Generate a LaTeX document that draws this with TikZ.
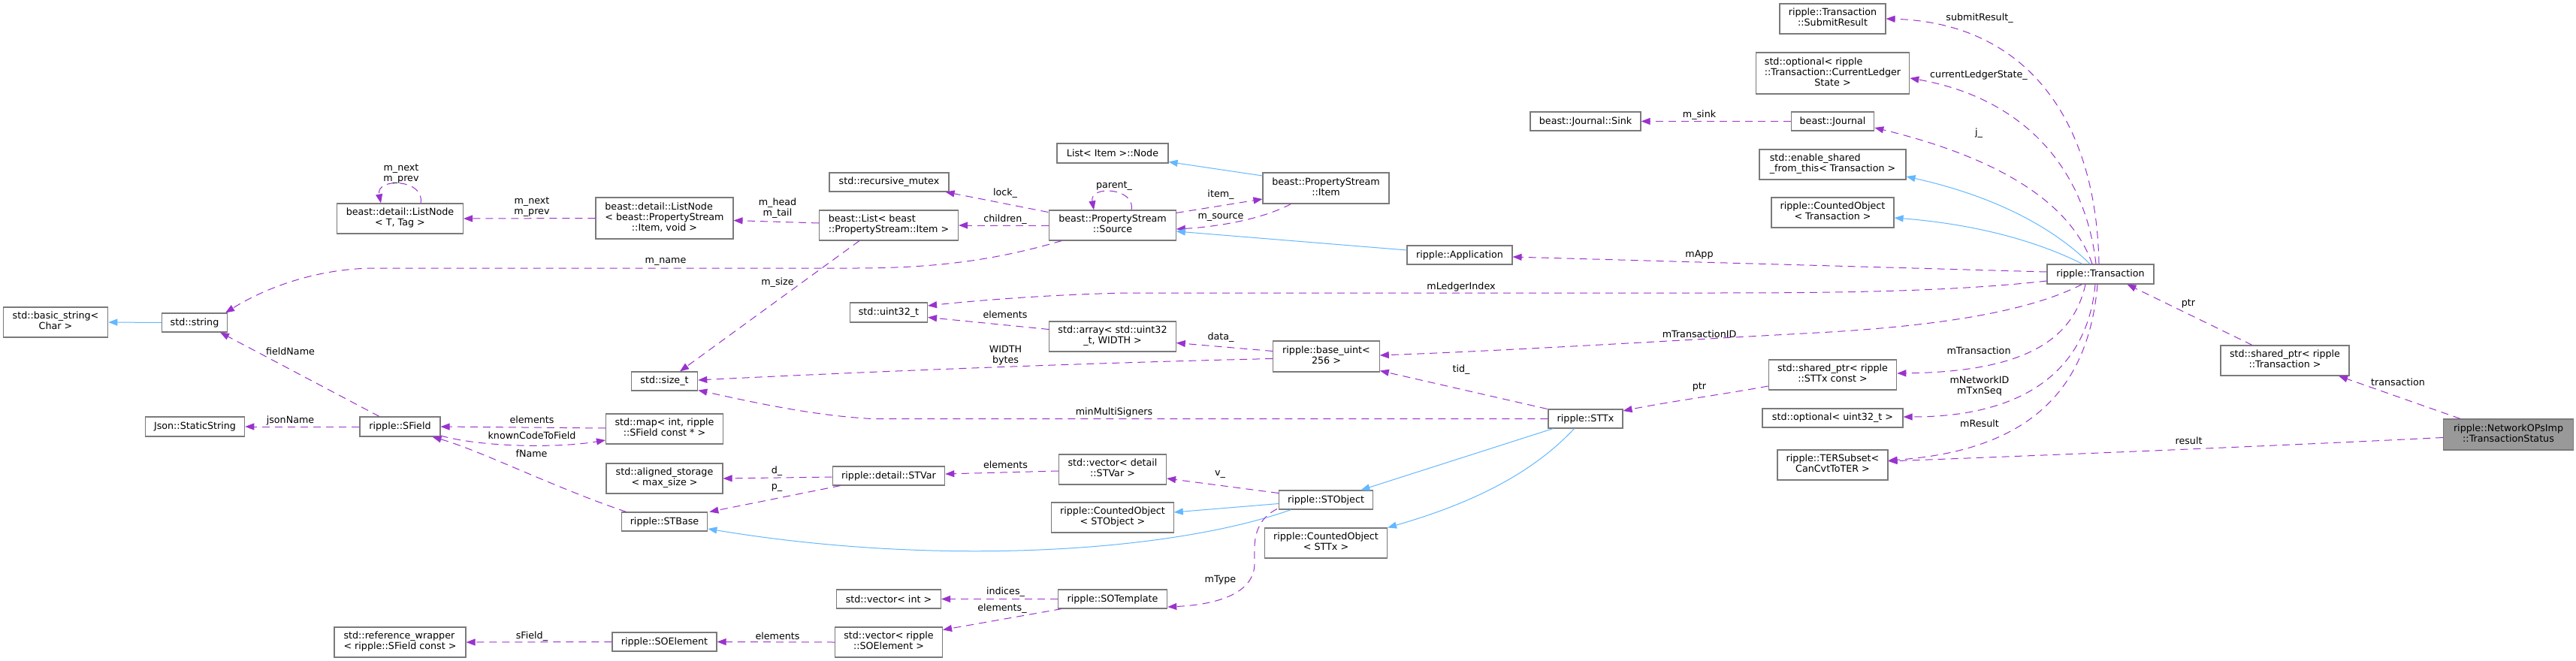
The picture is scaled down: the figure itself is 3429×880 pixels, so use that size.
\documentclass[tikz,border=0pt]{standalone}
\usepackage{fontspec}
\setmainfont{DejaVu Sans}
\usetikzlibrary{arrows.meta,calc}
\definecolor{edgep}{HTML}{9A32CD}
\definecolor{edgeb}{HTML}{63B8FF}
\definecolor{nodeb}{HTML}{7A7A7A}
\definecolor{mainf}{HTML}{999999}
\newcommand{\TwoL}[2]{\begin{tabular}{@{}l@{}}#1\\\multicolumn{1}{@{}c@{}}{#2}\end{tabular}}
\newcommand{\ThreeL}[3]{\begin{tabular}{@{}l@{}}#1\\#2\\\multicolumn{1}{@{}c@{}}{#3}\end{tabular}}
\begin{document}
\begin{tikzpicture}[x=1pt,y=-1pt,
  font=\fontsize{12.7}{14}\selectfont,
  clsbox/.style={draw=nodeb, line width=1.1pt, fill=white, inner sep=0pt, rectangle},
  mem/.style={draw=edgep, line width=1pt, dash pattern=on 10pt off 7pt, -{Triangle[length=12pt,width=9pt]}},
  inh/.style={draw=edgeb, line width=1pt, -{Triangle[length=12pt,width=9pt]}},
  lbl/.style={inner sep=0pt, align=center}]
\useasboundingbox[fill=white] (0,0) rectangle (3429,880);

% nodes
\node[clsbox,minimum width=139.5pt,minimum height=40pt] (bs) at (74,429) {\TwoL{std::basic\_string<}{Char >}};
\node[clsbox,minimum width=87pt,minimum height=25pt] (str) at (259,429.5) {std::string};
\node[clsbox,minimum width=168pt,minimum height=40pt] (lnt) at (532.5,291) {\TwoL{beast::detail::ListNode}{< T, Tag >}};
\node[clsbox,minimum width=183pt,minimum height=55pt] (lni) at (884.5,290.5) {\ThreeL{beast::detail::ListNode}{< beast::PropertyStream}{::Item, void >}};
\node[clsbox,minimum width=185pt,minimum height=40pt] (lst) at (1183,300) {\TwoL{beast::List< beast}{::PropertyStream::Item >}};
\node[clsbox,minimum width=159pt,minimum height=25pt] (mtx) at (1183.5,242.5) {std::recursive\_mutex};
\node[clsbox,minimum width=103pt,minimum height=26pt] (u32) at (1183,416) {std::uint32\_t};
\node[clsbox,minimum width=148pt,minimum height=26pt] (lnode) at (1481,204) {List< Item >::Node};
\node[clsbox,minimum width=168.5pt,minimum height=40pt] (src) at (1481,300) {\TwoL{beast::PropertyStream}{::Source}};
\node[clsbox,minimum width=168pt,minimum height=41pt] (itm) at (1765,250.5) {\TwoL{beast::PropertyStream}{::Item}};
\node[clsbox,minimum width=168.5pt,minimum height=40pt] (arr) at (1481,448) {\TwoL{std::array< std::uint32}{\_t, WIDTH >}};
\node[clsbox,minimum width=147pt,minimum height=25pt] (sink) at (2110.5,161.5) {beast::Journal::Sink};
\node[clsbox,minimum width=140pt,minimum height=25pt] (app) at (1943,339.5) {ripple::Application};
\node[clsbox,minimum width=141pt,minimum height=40pt] (sub) at (2439.5,25) {\TwoL{ripple::Transaction}{::SubmitResult}};
\node[clsbox,minimum width=204.5pt,minimum height=55pt] (cur) at (2439.5,97.5) {\ThreeL{std::optional< ripple}{::Transaction::CurrentLedger}{State >}};
\node[clsbox,minimum width=110.5pt,minimum height=25pt] (jnl) at (2439.5,161.5) {beast::Journal};
\node[clsbox,minimum width=195pt,minimum height=40pt] (esft) at (2439.5,219) {\TwoL{std::enable\_shared}{\_from\_this< Transaction >}};
\node[clsbox,minimum width=163pt,minimum height=40pt] (cot) at (2439.5,283) {\TwoL{ripple::CountedObject}{< Transaction >}};
\node[clsbox,minimum width=142pt,minimum height=26pt] (tr) at (2796,365) {ripple::Transaction};
\node[clsbox,minimum width=171pt,minimum height=40pt] (spt) at (3041.5,480) {\TwoL{std::shared\_ptr< ripple}{::Transaction >}};
\node[clsbox,fill=mainf,minimum width=173pt,minimum height=41pt] (ts) at (3339,578.5) {\TwoL{ripple::NetworkOPsImp}{::TransactionStatus}};
\node[clsbox,minimum width=170.5pt,minimum height=40pt] (spst) at (2439.5,499) {\TwoL{std::shared\_ptr< ripple}{::STTx const >}};
\node[clsbox,minimum width=187pt,minimum height=25pt] (opt) at (2439.5,556.5) {std::optional< uint32\_t >};
\node[clsbox,minimum width=147pt,minimum height=40pt] (ter) at (2439.5,619) {\TwoL{ripple::TERSubset<}{CanCvtToTER >}};
\node[clsbox,minimum width=141.5pt,minimum height=41pt] (bu) at (1765.5,474.5) {\TwoL{ripple::base\_uint<}{256 >}};
\node[clsbox,minimum width=99pt,minimum height=25pt] (sttx) at (2110.5,557.5) {ripple::STTx};
\node[clsbox,minimum width=125pt,minimum height=25pt] (sto) at (1765,665.5) {ripple::STObject};
\node[clsbox,minimum width=163pt,minimum height=40pt] (cosx) at (1765,723) {\TwoL{ripple::CountedObject}{< STTx >}};
\node[clsbox,minimum width=143pt,minimum height=40pt] (vsv) at (1481,625) {\TwoL{std::vector< detail}{::STVar >}};
\node[clsbox,minimum width=149.5pt,minimum height=25pt] (stv) at (1183,633.5) {ripple::detail::STVar};
\node[clsbox,minimum width=162.5pt,minimum height=40pt] (coso) at (1481,689) {\TwoL{ripple::CountedObject}{< STObject >}};
\node[clsbox,minimum width=145.5pt,minimum height=25pt] (sot) at (1481,797.5) {ripple::SOTemplate};
\node[clsbox,minimum width=139pt,minimum height=25pt] (vint) at (1183,797.5) {std::vector< int >};
\node[clsbox,minimum width=143pt,minimum height=40pt] (vsoe) at (1183,855) {\TwoL{std::vector< ripple}{::SOElement >}};
\node[clsbox,minimum width=88.5pt,minimum height=25pt] (szt) at (884.5,507.5) {std::size\_t};
\node[clsbox,minimum width=156pt,minimum height=40pt] (map) at (884.5,571) {\TwoL{std::map< int, ripple}{::SField const * >}};
\node[clsbox,minimum width=155pt,minimum height=40pt] (aln) at (884.5,637) {\TwoL{std::aligned\_storage}{< max\_size >}};
\node[clsbox,minimum width=114.5pt,minimum height=25pt] (stb) at (884.5,694.5) {ripple::STBase};
\node[clsbox,minimum width=139pt,minimum height=25pt] (soe) at (884.5,854.5) {ripple::SOElement};
\node[clsbox,minimum width=175pt,minimum height=40pt] (ref) at (532.5,855) {\TwoL{std::reference\_wrapper}{< ripple::SField const >}};
\node[clsbox,minimum width=132.5pt,minimum height=26pt] (jss) at (259.5,568) {Json::StaticString};
\node[clsbox,minimum width=107pt,minimum height=26pt] (sf) at (532.5,568) {ripple::SField};

% edges
\draw[mem] ($(lnt.north)+(27.5,0)$) .. controls (566,238) and (500,236) .. ($(lnt.north)+(-25.5,0)$);
\draw[mem] (lni.west) -- (lnt.east);
\draw[mem] ($(lst.west)+(0,-3)$) -- ($(lni.east)+(0,3)$);
\draw[mem] ($(lst.south west)+(54,0)$) -- ($(szt.north)+(20.5,0)$);
\draw[mem] ($(src.south west)+(17,0)$) .. controls (1330,345) and (1250,357) .. (1140,357) -- (500,357) .. controls (420,357) and (350,385) .. ($(str.north east)+(-3,0)$);
\draw[mem] ($(src.north west)+(-1,3)$) -- ($(mtx.south east)+(-5,0)$);
\draw[mem] (src.west) -- (lst.east);
\draw[mem] ($(src.north)+(25,0)$) .. controls (1512,250) and (1450,246) .. ($(src.north)+(-25,0)$);
\draw[mem] ($(src.north east)+(0,4)$) -- ($(itm.west)+(0,14.5)$);
\draw[mem] ($(itm.south west)+(38,0)$) .. controls (1680,292) and (1620,302) .. ($(src.east)+(0,5)$);
\draw[inh] ($(itm.west)+(0,-16.5)$) -- ($(lnode.south east)+(0,-2)$);
\draw[inh] ($(app.west)+(0,-6.5)$) -- ($(src.east)+(0,8)$);
\draw[mem] ($(tr.north)+(-2,0)$) .. controls (2790,150) and (2690,30) .. (sub.east);
\draw[mem] ($(tr.north)+(-6,0)$) .. controls (2775,220) and (2690,130) .. ($(cur.east)+(0,6.5)$);
\draw[mem] ($(tr.north)+(-11,0)$) .. controls (2760,280) and (2680,215) .. ($(jnl.east)+(0,8.5)$);
\draw[mem] (jnl.west) -- (sink.east);
\draw[inh] ($(tr.north)+(-14,0)$) .. controls (2730,300) and (2650,260) .. ($(esft.east)+(0,16)$);
\draw[inh] ($(tr.north)+(-24,0)$) .. controls (2730,330) and (2650,300) .. ($(cot.east)+(0,7)$);
\draw[mem] ($(tr.west)+(0,-3)$) -- ($(app.east)+(0,2.5)$);
\draw[mem] ($(tr.west)+(0,9)$) .. controls (2600,388) and (2450,390) .. (2280,390) -- (1500,390) .. controls (1400,392) and (1300,400) .. ($(u32.east)+(0,-9)$);
\draw[mem] ($(tr.south west)+(47,0)$) .. controls (2700,415) and (2580,435) .. (2400,444) .. controls (2200,455) and (2000,467) .. ($(bu.east)+(0,-1.5)$);
\draw[mem] ($(tr.south)+(-20,0)$) .. controls (2760,450) and (2700,495) .. ($(spst.east)+(0,-2)$);
\draw[mem] ($(tr.south)+(-7,0)$) .. controls (2780,480) and (2710,555) .. ($(opt.east)+(0,-1.5)$);
\draw[mem] ($(tr.south)+(-4,0)$) .. controls (2780,520) and (2700,600) .. ($(ter.east)+(0,-6)$);
\draw[mem] ($(spt.north)+(-43.5,0)$) -- ($(tr.south east)+(-36,0)$);
\draw[mem] ($(ts.north west)+(23,0)$) -- ($(spt.south east)+(-14.5,0)$);
\draw[mem] ($(ts.west)+(0,4)$) .. controls (3000,595) and (2700,607) .. ($(ter.east)+(0,-5)$);
\draw[mem] ($(spst.west)+(0,15)$) .. controls (2300,524) and (2220,535) .. ($(sttx.east)+(0,-10.5)$);
\draw[mem] ($(sttx.north west)+(-1,0)$) -- ($(bu.south east)+(0,-2)$);
\draw[mem] (sttx.west) -- (1160,557.5) .. controls (1080,553) and (1000,535) .. ($(szt.south east)+(0,-1)$);
\draw[mem] ($(bu.west)+(0,3)$) .. controls (1450,483) and (1150,495) .. ($(szt.east)+(0,-1.5)$);
\draw[mem] ($(bu.west)+(0,-7)$) -- ($(arr.east)+(0,8.5)$);
\draw[mem] ($(arr.west)+(0,-9.5)$) -- ($(u32.east)+(0,6.5)$);
\draw[inh] ($(sttx.south west)+(7,0)$) -- ($(sto.north)+(46.5,0)$);
\draw[inh] ($(sttx.south)+(-15,0)$) .. controls (2040,630) and (1960,670) .. (cosx.north east);
\draw[mem] ($(sto.west)+(0,-9)$) -- ($(vsv.east)+(0,12)$);
\draw[inh] ($(sto.west)+(0,5)$) -- ($(coso.east)+(0,-7)$);
\draw[inh] ($(sto.south west)+(16.5,0)$) .. controls (1560,735) and (1250,755) .. ($(stb.east)+(0,9.5)$);
\draw[mem] ($(sto.south west)+(-2,-1)$) .. controls (1665,695) and (1670,730) .. (1670,750) .. controls (1670,790) and (1620,805) .. ($(sot.east)+(0,10.5)$);
\draw[mem] ($(vsv.west)+(0,2)$) -- ($(stv.east)+(0,-2.5)$);
\draw[mem] ($(stv.west)+(0,1.5)$) -- (aln.east);
\draw[mem] ($(stv.south west)+(11,0)$) -- ($(stb.north east)+(2,0)$);
\draw[mem] ($(stb.north west)+(7,0)$) .. controls (740,650) and (640,600) .. ($(sf.south east)+(-11,0)$);
\draw[mem] ($(map.west)+(0,-1)$) -- (sf.east);
\draw[mem] ($(sf.east)+(0,12)$) .. controls (640,595) and (740,597) .. ($(map.west)+(0,15)$);
\draw[mem] ($(sf.north)+(-27.5,0)$) -- ($(str.south east)+(-10,0)$);
\draw[mem] (sf.west) -- (jss.east);
\draw[inh] (str.west) -- (bs.east);
\draw[mem] (sot.west) -- (vint.east);
\draw[mem] ($(sot.south west)+(5.5,0)$) -- ($(vsoe.east)+(0,-16.5)$);
\draw[mem] (vsoe.west) -- (soe.east);
\draw[mem] (soe.west) -- (ref.east);

% labels
\node[lbl] (l1) at (534,231.5) {m\_next\\m\_prev};
\node[lbl] (l2) at (708,275.5) {m\_next\\m\_prev};
\node[lbl] (l3) at (1035,277) {m\_head\\m\_tail};
\node[lbl] (l4) at (1035,376) {m\_size};
\node[lbl] (l5) at (886,348) {m\_name};
\node[lbl] (l6) at (1338,257) {lock\_};
\node[lbl] (l7) at (1338,292) {children\_};
\node[lbl] (l8) at (1483,248) {parent\_};
\node[lbl] (l9) at (1625,259) {item\_};
\node[lbl] (l10) at (1625,289) {m\_source};
\node[lbl] (l11) at (2635,24) {submitResult\_};
\node[lbl] (l12) at (2634,100) {currentLedgerState\_};
\node[lbl] (l13) at (2634,177) {j\_};
\node[lbl] (l14) at (2262,153) {m\_sink};
\node[lbl] (l15) at (2262,339) {mApp};
\node[lbl] (l16) at (1945,382) {mLedgerIndex};
\node[lbl] (l17) at (2262,445) {mTransactionID};
\node[lbl] (l18) at (2634,467) {mTransaction};
\node[lbl] (l19) at (2635,514) {mNetworkID\\mTxnSeq};
\node[lbl] (l20) at (2635,564) {mResult};
\node[lbl] (l21) at (2913,404) {ptr};
\node[lbl] (l22) at (3192,509) {transaction};
\node[lbl] (l23) at (2913.5,587) {result};
\node[lbl] (l24) at (2262,515) {ptr};
\node[lbl] (l25) at (1945,492) {tid\_};
\node[lbl] (l26) at (1483,549) {minMultiSigners};
\node[lbl] (l27) at (1338.5,473.5) {WIDTH\\bytes};
\node[lbl] (l28) at (1625,449) {data\_};
\node[lbl] (l29) at (1338,419) {elements};
\node[lbl] (l30) at (1624,632) {v\_};
\node[lbl] (l31) at (1624.5,772) {mType};
\node[lbl] (l32) at (1338.5,619) {elements};
\node[lbl] (l33) at (1034,627) {d\_};
\node[lbl] (l34) at (1034,649) {p\_};
\node[lbl] (l35) at (707.5,604) {fName};
\node[lbl] (l36) at (708,559) {elements};
\node[lbl] (l37) at (708,580) {knownCodeToField};
\node[lbl] (l38) at (386.5,468) {fieldName};
\node[lbl] (l39) at (386.5,560) {jsonName};
\node[lbl] (l40) at (1338.5,788) {indices\_};
\node[lbl] (l41) at (1334,810) {elements\_};
\node[lbl] (l42) at (1035,847) {elements};
\node[lbl] (l43) at (708,847) {sField\_};
\end{tikzpicture}
\end{document}
